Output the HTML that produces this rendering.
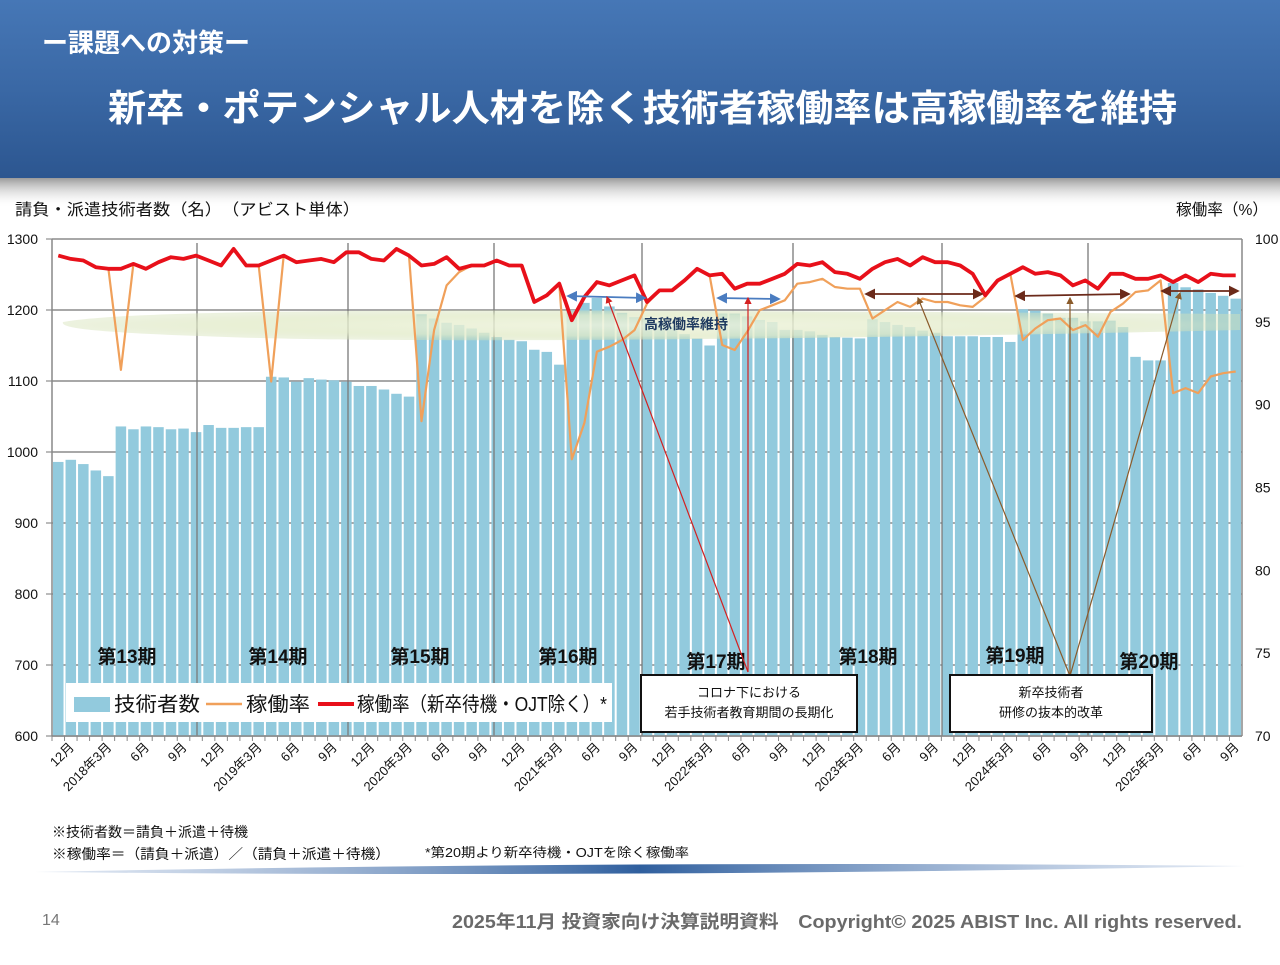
<!DOCTYPE html>
<html><head><meta charset="utf-8">
<style>
html,body{margin:0;padding:0;background:#fff;}
body{width:1280px;height:960px;overflow:hidden;font-family:"Liberation Sans","Noto Sans CJK JP",sans-serif;}
svg text{font-family:"Liberation Sans","Noto Sans CJK JP",sans-serif;}
</style></head>
<body>
<svg id="chart" width="1280" height="960" viewBox="0 0 1280 960" xmlns="http://www.w3.org/2000/svg">
<defs>
<linearGradient id="hdr" x1="0" y1="0" x2="0" y2="1">
<stop offset="0" stop-color="#4677b6"/><stop offset="0.5" stop-color="#3a68a5"/><stop offset="1" stop-color="#2c5690"/>
</linearGradient>
<linearGradient id="shd" x1="0" y1="0" x2="0" y2="1">
<stop offset="0" stop-color="#9a9a9a"/><stop offset="1" stop-color="#ffffff" stop-opacity="0"/>
</linearGradient>
<radialGradient id="ell" cx="0.5" cy="0.5" r="0.5">
<stop offset="0" stop-color="#eef3dc" stop-opacity="0.95"/><stop offset="0.7" stop-color="#e2ebc8" stop-opacity="0.85"/><stop offset="1" stop-color="#d6e2b8" stop-opacity="0.5"/>
</radialGradient>
<linearGradient id="foot" x1="0" y1="0" x2="1" y2="0">
<stop offset="0" stop-color="#9fb6d8" stop-opacity="0.3"/><stop offset="0.5" stop-color="#2f5f9e"/><stop offset="1" stop-color="#9fb6d8" stop-opacity="0.3"/>
</linearGradient>
<marker id="mb" markerWidth="6" markerHeight="6" refX="5" refY="3" orient="auto-start-reverse"><path d="M0,0 L6,3 L0,6 z" fill="#4a7cc0"/></marker>
<marker id="mr" markerWidth="6" markerHeight="6" refX="5" refY="3" orient="auto"><path d="M0,0 L6,3 L0,6 z" fill="#d42020"/></marker>
<marker id="mw" markerWidth="6" markerHeight="6" refX="5" refY="3" orient="auto-start-reverse"><path d="M0,0 L6,3 L0,6 z" fill="#6b2a1a"/></marker>
<marker id="mn" markerWidth="6" markerHeight="6" refX="5" refY="3" orient="auto"><path d="M0,0 L6,3 L0,6 z" fill="#8a5a2a"/></marker>
</defs>

<rect x="0" y="178" width="1280" height="30" fill="url(#shd)"/>
<rect x="0" y="0" width="1280" height="178" fill="url(#hdr)"/>
<text x="42" y="52" font-size="26" font-weight="bold" fill="#fff">ー課題への対策ー</text>
<text x="108" y="121" font-size="37" font-weight="bold" fill="#fff" textLength="1069" lengthAdjust="spacingAndGlyphs">新卒・ポテンシャル人材を除く技術者稼働率は高稼働率を維持</text>

<text x="15" y="215" font-size="16" fill="#111" textLength="345" lengthAdjust="spacingAndGlyphs">請負・派遣技術者数（名）　（アビスト単体）</text>
<text x="1176" y="215" font-size="16" fill="#111" textLength="92" lengthAdjust="spacingAndGlyphs">稼働率（%）</text>

<g id="grid"></g>
<g id="bars"></g>
<g id="deco"></g>
<g id="lines"></g>
<g id="axes"></g>
<g id="annot"></g>

<text x="52" y="837" font-size="14" fill="#111">※技術者数＝請負＋派遣＋待機</text>
<text x="52" y="859" font-size="14" fill="#111" textLength="338" lengthAdjust="spacingAndGlyphs">※稼働率＝（請負＋派遣）／（請負＋派遣＋待機）</text>
<text x="425" y="857" font-size="13" fill="#111" textLength="264" lengthAdjust="spacingAndGlyphs">*第20期より新卒待機・OJTを除く稼働率</text>
<path d="M35,872 Q640,860 1245,866 Q640,878 35,872 z" fill="url(#foot)"/>
<text x="42" y="925" font-size="16" fill="#777">14</text>
<text x="452" y="928" font-size="18" fill="#6a6a6a" font-weight="bold" textLength="790" lengthAdjust="spacingAndGlyphs">2025年11月 投資家向け決算説明資料　Copyright© 2025 ABIST Inc. All rights reserved.</text>
</svg>
<script>
// ---- data (Nov 2017 .. Sep 2025) ----
const startYear = 2017;
const startMonth = 11;
const headcount = [986,989,983,974,966,1036,1032,1036,1035,1032,1033,1028,1038,1034,1034,1035,1035,
1106,1105,1099,1104,1102,1101,1099,1093,1093,1088,1082,1078,
1194,1188,1182,1179,1174,1168,1162,1158,1156,1144,1141,1123,
1200,1210,1217,1205,1196,1190,1188,1183,1178,1166,1160,1150,
1195,1195,1191,1186,1183,1172,1172,1170,1165,1162,1161,1160,
1187,1183,1179,1176,1171,1168,1163,1163,1163,1162,1162,1155,
1201,1199,1195,1189,1189,1184,1184,1185,1176,1134,1129,1129,
1238,1232,1229,1224,1220,1216];
const rateExcl = [99.0,98.8,98.7,98.3,98.2,98.2,98.5,98.2,98.6,98.9,
98.8,99.0,98.7,98.4,99.4,98.4,98.4,98.7,99.0,98.6,
98.7,98.8,98.6,99.2,99.2,98.8,98.7,99.4,99.0,98.4,
98.5,98.9,98.2,98.4,98.4,98.7,98.4,98.4,96.2,96.6,
97.3,95.1,96.5,97.4,97.2,97.5,97.8,96.2,96.9,96.9,
97.5,98.2,97.8,97.9,97.0,97.3,97.3,97.6,97.9,98.5,
98.4,98.6,98.0,97.9,97.6,98.2,98.6,98.8,98.4,98.9,
98.6,98.6,98.4,97.9,96.6,97.5,97.9,98.3,97.9,98.0,
97.8,97.2,97.5,97.0,97.9,97.9,97.6,97.6,97.8,97.4,
97.8,97.4,97.9,97.8,97.8];
const rateAll = [99.0,98.8,98.7,98.3,98.2,92.1,98.5,98.2,98.6,98.9,
98.8,99.0,98.7,98.4,99.4,98.4,98.4,91.4,99.0,98.6,
98.7,98.8,98.6,99.2,99.2,98.8,98.7,99.4,99.0,89.0,
94.5,97.2,98.0,98.4,98.4,98.7,98.4,98.4,96.2,96.6,
97.3,86.7,88.9,93.2,93.5,93.9,94.5,96.1,96.9,96.9,
97.5,98.2,97.8,93.6,93.3,94.4,95.7,96.0,96.3,97.3,
97.4,97.6,97.1,97.0,97.0,95.2,95.7,96.2,95.9,96.4,
96.2,96.2,96.0,95.9,96.5,97.5,97.9,93.9,94.6,95.1,
95.2,94.5,94.8,94.1,95.6,96.1,96.8,96.9,97.5,90.7,
91.0,90.7,91.7,91.9,92.0];
const leftTicks = [600,700,800,900,1000,1100,1200,1300];
const rightTicks = [70,75,80,85,90,95,100];

// ---- scales ----
const X0 = 52, X1 = 1242, Y0 = 736, Y1 = 239;
const band = (X1 - X0) / headcount.length;
const xC = i => X0 + band * (i + 0.5);
const yL = v => Y0 - (v - 600) / 700 * (Y0 - Y1);
const yR = v => Y0 - (v - 70) / 30 * (Y0 - Y1);
const NS = 'http://www.w3.org/2000/svg';
function mk(tag, attrs, parent, txt){
  const e = document.createElementNS(NS, tag);
  for (const k in attrs) e.setAttribute(k, attrs[k]);
  if (txt !== undefined) e.textContent = txt;
  parent.appendChild(e);
  return e;
}
const gGrid = document.getElementById('grid'), gBars = document.getElementById('bars'),
      gDeco = document.getElementById('deco'), gLines = document.getElementById('lines'),
      gAxes = document.getElementById('axes'), gAnn = document.getElementById('annot');

leftTicks.forEach(v => {
  const l = mk('line', {x1: X0, x2: X1, y1: yL(v), y2: yL(v), stroke: '#8c8c8c', 'stroke-width': 1.5}, gGrid);
  
  
  const t = mk('text', {x: 38, y: yL(v) + 5, 'font-size': 14, 'text-anchor': 'end', fill: '#111'}, gAxes, String(v));
  
  
  mk('line', {x1: X0 - 6, x2: X0, y1: yL(v), y2: yL(v), stroke: '#777'}, gAxes);
});
rightTicks.forEach(v => {
  const t = mk('text', {x: 1255, y: yR(v) + 5, 'font-size': 14, fill: '#111'}, gAxes, String(v));
  
  
});
mk('line', {x1: X0, x2: X0, y1: Y1, y2: Y0, stroke: '#888', 'stroke-width': 1.5}, gAxes);
mk('line', {x1: X1, x2: X1, y1: Y1, y2: Y0, stroke: '#888', 'stroke-width': 1.5}, gAxes);
mk('line', {x1: X0, x2: X1, y1: Y0, y2: Y0, stroke: '#888', 'stroke-width': 1.5}, gAxes);

headcount.forEach((v, i) => {
  const r = mk('rect', {x: xC(i) - band * 0.42, y: yL(v), width: band * 0.84, height: Y0 - yL(v), fill: '#92cadd'}, gBars);
  
  
  mk('line', {x1: X0 + band * i, x2: X0 + band * i, y1: Y0, y2: Y0 + 5, stroke: '#888'}, gAxes);
});

headcount.forEach((v, i) => {
  const m = (startMonth - 1 + i) % 12 + 1;
  const y = startYear + Math.floor((startMonth - 1 + i) / 12);
  if (m % 3 !== 0) return;
  const lbl = m === 3 ? (y + '年3月') : (m + '月');
  const px = xC(i) + 4, py = 748;
  const t = mk('text', {x: px, y: py, 'font-size': 13, 'text-anchor': 'end', fill: '#111', transform: 'rotate(-45 ' + px + ' ' + py + ')'}, gAxes, lbl);
  
  
});

[197, 348, 494, 642, 793, 942, 1088].forEach(x => {
  const l = mk('line', {x1: x, x2: x, y1: Y1 + 4, y2: Y0, stroke: '#7a7a7a', 'stroke-width': 1.3}, gDeco);
  
  
});
const el = mk('path', {d: 'M63,322 C150,306 600,310 1240,314 L1240,330 C900,338 400,345 200,336 C90,332 60,328 63,322 z', fill: 'url(#ell)', opacity: 0.9}, gDeco);



function poly(arr, color, w, name){
  const d = arr.map((v, i) => (i ? 'L' : 'M') + xC(i).toFixed(1) + ',' + yR(v).toFixed(1)).join(' ');
  const p = mk('path', {d: d, fill: 'none', stroke: color, 'stroke-width': w, 'stroke-linejoin': 'round'}, gLines);
  
  
}
poly(rateAll, '#f0a05a', 2.2, 'line-utilization');
poly(rateExcl, '#e8101a', 3.8, 'line-utilization-excl-new');

function t(x, y, s, size, name, extra){
  const e = mk('text', Object.assign({x: x, y: y, 'font-size': size, fill: '#111'}, extra || {}), gAnn, s);
  
  
  return e;
}
t(686, 329, '高稼働率維持', 14, 'high-utilization-label', {'text-anchor': 'middle', 'font-weight': 'bold', fill: '#1f3a60'});
['第13期','第14期','第15期','第16期','第17期','第18期','第19期','第20期'].forEach((s, k) => {
  const xs = [127, 278, 420, 568, 716, 868, 1015, 1149], ys = [663, 663, 663, 663, 668, 663, 662, 668];
  t(xs[k], ys[k], s, 19, 'period-label', {'text-anchor': 'middle', 'font-weight': 'bold'});
});
function arrow(x1, y1, x2, y2, col, w, ms, me, name){
  const a = {x1: x1, y1: y1, x2: x2, y2: y2, stroke: col, 'stroke-width': w};
  if (ms) a['marker-start'] = 'url(#' + ms + ')';
  if (me) a['marker-end'] = 'url(#' + me + ')';
  const l = mk('line', a, gAnn);
  
  
}
arrow(568, 296, 645, 298, '#4a7cc0', 1.8, 'mb', 'mb', 'blue-span-arrow');
arrow(718, 298, 779, 299, '#4a7cc0', 1.8, 'mb', 'mb', 'blue-span-arrow');
arrow(748, 672, 607, 297, '#d42020', 1.2, null, 'mr', 'red-pointer-arrow');
arrow(748, 672, 748, 298, '#d42020', 1.2, null, 'mr', 'red-pointer-arrow');
arrow(866, 294, 982, 294, '#6b2a1a', 1.8, 'mw', 'mw', 'brown-span-arrow');
arrow(1016, 296, 1129, 294, '#6b2a1a', 1.8, 'mw', 'mw', 'brown-span-arrow');
arrow(1162, 291, 1238, 291, '#6b2a1a', 1.8, 'mw', 'mw', 'brown-span-arrow');
arrow(1070, 676, 918, 298, '#8a5a2a', 1.2, null, 'mn', 'brown-pointer-arrow');
arrow(1070, 676, 1070, 298, '#8a5a2a', 1.2, null, 'mn', 'brown-pointer-arrow');
arrow(1070, 676, 1180, 293, '#8a5a2a', 1.2, null, 'mn', 'brown-pointer-arrow');

function box(x, y, w, h, l1, l2, name){
  const r = mk('rect', {x: x, y: y, width: w, height: h, fill: '#fff', stroke: '#111', 'stroke-width': 2}, gAnn);
  
  
  t(x + w / 2, y + 22, l1, 13, name + '-line1', {'text-anchor': 'middle'});
  t(x + w / 2, y + 42, l2, 13, name + '-line2', {'text-anchor': 'middle'});
}
box(641, 675, 216, 57, 'コロナ下における', '若手技術者教育期間の長期化', 'covid-callout');
box(950, 675, 202, 57, '新卒技術者', '研修の抜本的改革', 'training-reform-callout');

const lg = mk('rect', {x: 66, y: 683, width: 546, height: 39, fill: '#fff'}, gAnn);


const lb = mk('rect', {x: 74, y: 697, width: 36, height: 15, fill: '#92cadd'}, gAnn);


t(114, 711, '技術者数', 20, 'legend-entry-headcount', {textLength: 86, lengthAdjust: 'spacingAndGlyphs'});
arrow(206, 704, 242, 704, '#f0a05a', 2.5, null, null, 'legend-swatch-utilization');
t(246, 711, '稼働率', 20, 'legend-entry-utilization', {textLength: 64, lengthAdjust: 'spacingAndGlyphs'});
arrow(318, 704, 354, 704, '#e8101a', 4, null, null, 'legend-swatch-utilization-excl');
t(357, 711, '稼働率（新卒待機・OJT除く）*', 20, 'legend-entry-utilization-excl', {textLength: 250, lengthAdjust: 'spacingAndGlyphs'});
</script>
</body></html>
